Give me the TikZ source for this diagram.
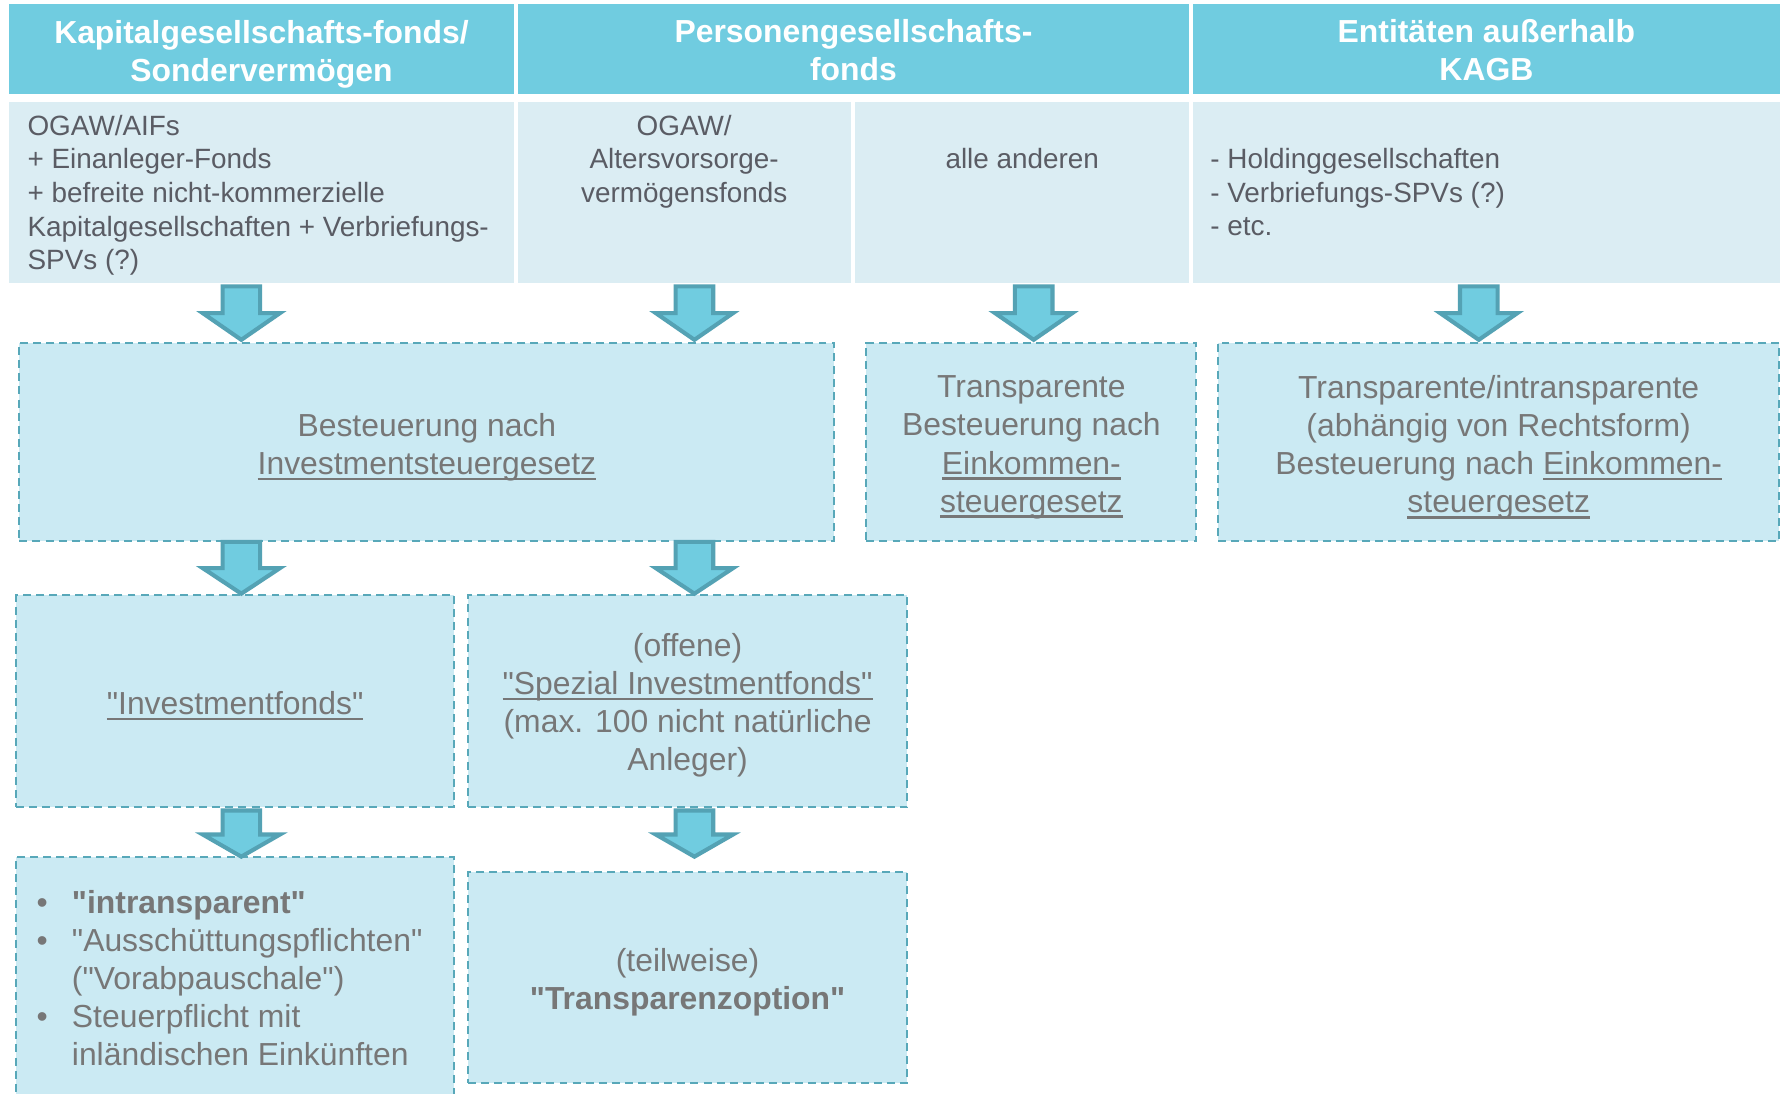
\documentclass[tikz,border=0pt]{standalone}
\usepackage{fontspec}
\setmainfont{Liberation Sans}[Ligatures=TeXOff]

\definecolor{headfill}{RGB}{112,204,224}
\definecolor{rowfill}{RGB}{219,237,243}
\definecolor{boxfill}{RGB}{203,234,243}
\definecolor{dashcol}{RGB}{88,168,185}
\definecolor{arrowline}{RGB}{84,162,180}
\definecolor{rowtext}{RGB}{90,92,100}
\definecolor{boxtext}{RGB}{119,119,119}

% thick underline for law and fund names
\newcommand{\ulw}[1]{\leavevmode\setbox0\hbox{#1}\rlap{\rule[-5pt]{\wd0}{2.2pt}}\box0}
% bullet hanging to the left of a list line
\newcommand{\bulletmark}{\llap{\makebox[31pt][l]{\textbullet}}}

\tikzset{
  headcell/.style={fill=headfill, inner sep=0pt, minimum height=79pt, anchor=north west},
  headlabel/.style={inner sep=0pt, text=white, align=center, font=\fontsize{28}{33}\selectfont\bfseries},
  rowcell/.style={fill=rowfill, inner sep=0pt, minimum height=159pt, anchor=north west},
  rowlabel/.style={inner sep=0pt, text=rowtext, font=\fontsize{24.5}{29.5}\selectfont},
  dbox/.style={draw=dashcol, fill=boxfill, line width=1.8pt, dash pattern=on 7pt off 4.5pt,
    inner sep=0pt},
  boxlabel/.style={inner sep=0pt, text=boxtext, align=center, font=\fontsize{28}{33.5}\selectfont},
  pics/downarrow/.style n args={2}{code={
    \draw[fill=headfill, draw=arrowline, line width=3.6pt, line join=miter]
      (-16.5,0) -- (16.5,0) -- (16.5,#1) -- (34,#1) -- (0,#1+#2)
      -- (-34,#1) -- (-16.5,#1) -- cycle;
  }}
}

\begin{document}
\begin{tikzpicture}[x=1pt,y=-1pt]
\useasboundingbox (0,0) rectangle (1568,961);
\clip (0,0) rectangle (1568,961);
\fill[white] (0,0) rectangle (1568,961);

% column headers
\node[headcell, minimum width=443pt] (h1) at (8,3) {};
\node[headcell, minimum width=589pt] (h2) at (455,3) {};
\node[headcell, minimum width=515pt] (h3) at (1048,3) {};
\node[headlabel] (h1t) at ([yshift=-5pt]h1.center) {Kapitalgesellschafts-fonds/\\Sondervermögen};
\node[headlabel] (h2t) at ([yshift=-1.5pt]h2.center) {Personengesellschafts-\\fonds};
\node[headlabel] (h3t) at ([yshift=-1.5pt]h3.center) {Entitäten außerhalb\\KAGB};

% entity rows
\node[rowcell, minimum width=443pt] (r1) at (8,89) {};
\node[rowcell, minimum width=292pt] (r2) at (455,89) {};
\node[rowcell, minimum width=293pt] (r3) at (751,89) {};
\node[rowcell, minimum width=515pt] (r4) at (1048,89) {};

\node[rowlabel, anchor=west, align=left] (r1t) at (24,171.5)
  {OGAW/AIFs\\+ Einanleger-Fonds\\+ befreite nicht-kommerzielle\\Kapitalgesellschaften + Verbriefungs-\\SPVs (?)};
\node[rowlabel, align=center] (r2t) at (601,142) {OGAW/\\Altersvorsorge-\\vermögensfonds};
\node[rowlabel] (r3t) at (898,139) {alle anderen};
\node[rowlabel, anchor=west, align=left] (r4t) at (1063,169)
  {- Holdinggesellschaften\\- Verbriefungs-SPVs (?)\\- etc.};

% taxation regimes
\node[dbox, minimum width=716pt, minimum height=174pt] (b1) at (375,388) {};
\node[dbox, minimum width=290pt, minimum height=174pt] (b2) at (906,388) {};
\node[dbox, minimum width=493pt, minimum height=174pt] (b3) at (1316.5,388) {};
\node[boxlabel] (b1t) at ([yshift=-5pt]b1.center) {Besteuerung nach\\\ulw{Investmentsteuergesetz}};
\node[boxlabel] (b2t) at ([yshift=-5pt]b2.center)
  {Transparente\\Besteuerung nach\\\ulw{Einkommen-}\\\ulw{steuergesetz}};
\node[boxlabel] (b3t) at ([yshift=-5pt]b3.center)
  {Transparente/intransparente\\(abhängig von Rechtsform)\\Besteuerung nach \ulw{Einkommen-}\\\ulw{steuergesetz}};

% fund types
\node[dbox, minimum width=385pt, minimum height=186pt] (b4) at (206.5,616) {};
\node[dbox, minimum width=386pt, minimum height=186pt] (b5) at (604,616) {};
\node[boxlabel] (b4t) at ([yshift=-4pt]b4.center) {\ulw{"Investmentfonds"}};
\node[boxlabel] (b5t) at ([yshift=-3.5pt]b5.center)
  {(offene)\\\ulw{"Spezial Investmentfonds"}\\(max. 100 nicht natürliche\\Anleger)};

% consequences
\node[dbox, minimum width=385pt, minimum height=227pt] (b6) at (206.5,866.5) {};
\node[dbox, minimum width=386pt, minimum height=185pt] (b7) at (604,858.5) {};
\node[boxlabel, anchor=west, align=left] (b6t) at (63,859)
  {\bulletmark\textbf{"intransparent"}\\\bulletmark"Ausschüttungspflichten"\\("Vorabpauschale")\\\bulletmark Steuerpflicht mit\\inländischen Einkünften};
\node[boxlabel] (b7t) at ([yshift=-4pt]b7.center) {(teilweise)\\\textbf{"Transparenzoption"}};

% block arrows
\pic (a1) at (212,251.5) {downarrow={23.5}{23.5}};
\pic (a2) at (610,251.5) {downarrow={23.5}{23.5}};
\pic (a3) at (908,251.5) {downarrow={23.5}{23.5}};
\pic (a4) at (1299,251.5) {downarrow={23.5}{23.5}};
\pic (a5) at (212,476) {downarrow={23}{22.5}};
\pic (a6) at (610,476) {downarrow={23}{22.5}};
\pic (a7) at (212,712) {downarrow={21}{19.5}};
\pic (a8) at (610,712) {downarrow={21}{19.5}};
\end{tikzpicture}
\end{document}
